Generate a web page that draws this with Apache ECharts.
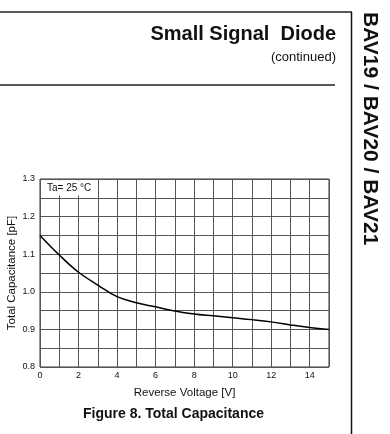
<!DOCTYPE html>
<html>
<head>
<meta charset="utf-8">
<script src="https://cdn.jsdelivr.net/npm/echarts@6/dist/echarts.min.js"></script>
<style>
html,body{margin:0;padding:0;background:#fff;}
#c{width:390px;height:434px;}
</style>
</head>
<body>
<div id="c"></div>
<script>
var voltage = [0, 1, 2, 3, 4, 5, 6, 7, 8, 9, 10, 11, 12, 13, 14, 15];
var capacitance = [1.150, 1.098, 1.052, 1.018, 0.987, 0.971, 0.960, 0.949, 0.941, 0.936, 0.931, 0.926, 0.920, 0.912, 0.905, 0.900];
var xTicks = [0, 2, 4, 6, 8, 10, 12, 14];
var yTicks = ['0.8', '0.9', '1.0', '1.1', '1.2', '1.3'];

var FONT = '"Liberation Sans", Arial, sans-serif';
var chart = echarts.init(document.getElementById('c'), null, {renderer: 'canvas'});
var gridColor = '#555';

chart.setOption({
  animation: false,
  backgroundColor: '#fff',
  grid: {left: 40, right: 61, top: 179, bottom: 67, show: true, borderColor: '#333', borderWidth: 1,
    containLabel: false, outerBoundsMode: 'none'},
  xAxis: {
    type: 'value', min: 0, max: 15, interval: 2,
    axisLine: {show: false}, axisTick: {show: false},
    axisLabel: {fontFamily: FONT, fontSize: 9, color: '#111', margin: 4,
      formatter: function (v) { return xTicks.indexOf(v) >= 0 ? String(v) : ''; }},
    splitLine: {show: true, lineStyle: {color: gridColor, width: 1}},
    minorTick: {show: false, splitNumber: 2},
    minorSplitLine: {show: true, lineStyle: {color: gridColor, width: 1}},
    name: 'Reverse Voltage [V]', nameLocation: 'middle', nameGap: 20, nameMoveOverlap: false,
    nameTextStyle: {fontFamily: FONT, fontSize: 11.5, color: '#111'}
  },
  yAxis: {
    type: 'value', min: 0.8, max: 1.3, interval: 0.1,
    axisLine: {show: false}, axisTick: {show: false},
    axisLabel: {fontFamily: FONT, fontSize: 9, color: '#111', margin: 5,
      formatter: function (v) { return yTicks[Math.round((v - 0.8) * 10)]; }},
    splitLine: {show: true, lineStyle: {color: gridColor, width: 1}},
    minorTick: {show: false, splitNumber: 2},
    minorSplitLine: {show: true, lineStyle: {color: gridColor, width: 1}},
    name: 'Total Capacitance [pF]', nameLocation: 'middle', nameGap: 22, nameMoveOverlap: false,
    nameTextStyle: {fontFamily: FONT, fontSize: 11.5, color: '#111'}
  },
  series: [{
    type: 'line', smooth: 0.4, symbol: 'none',
    lineStyle: {color: '#000', width: 1.5},
    data: voltage.map(function (v, i) { return [v, capacitance[i]]; })
  }],
  graphic: [
    {type: 'rect', z: 100, shape: {x: 41, y: 180.5, width: 56, height: 15}, style: {fill: '#fff'}},
    {type: 'text', z: 101, left: 47, top: 183, style: {text: 'Ta= 25 °C', font: '10px ' + FONT, fill: '#111'}},
    {type: 'line', shape: {x1: 0, y1: 12, x2: 352, y2: 12}, style: {stroke: '#222', lineWidth: 1.5}},
    {type: 'line', shape: {x1: 351.5, y1: 12, x2: 351.5, y2: 434}, style: {stroke: '#111', lineWidth: 1.5}},
    {type: 'line', shape: {x1: 0, y1: 85, x2: 335, y2: 85}, style: {stroke: '#222', lineWidth: 1.5}},
    {type: 'text', x: 336, y: 34, style: {text: 'Small Signal  Diode', font: 'bold 20px ' + FONT, fill: '#111', textAlign: 'right', textVerticalAlign: 'middle'}},
    {type: 'text', x: 336, y: 57, style: {text: '(continued)', font: '13px ' + FONT, fill: '#111', textAlign: 'right', textVerticalAlign: 'middle'}},
    {type: 'text', x: 173.5, y: 414, style: {text: 'Figure 8. Total Capacitance', font: 'bold 14px ' + FONT, fill: '#111', textAlign: 'center', textVerticalAlign: 'middle'}},
    {type: 'text', x: 370, y: 12, rotation: -Math.PI / 2, style: {text: 'BAV19 / BAV20 / BAV21', font: 'bold 21px ' + FONT, fill: '#111', textAlign: 'left', textVerticalAlign: 'middle'}}
  ]
});
</script>
</body>
</html>
